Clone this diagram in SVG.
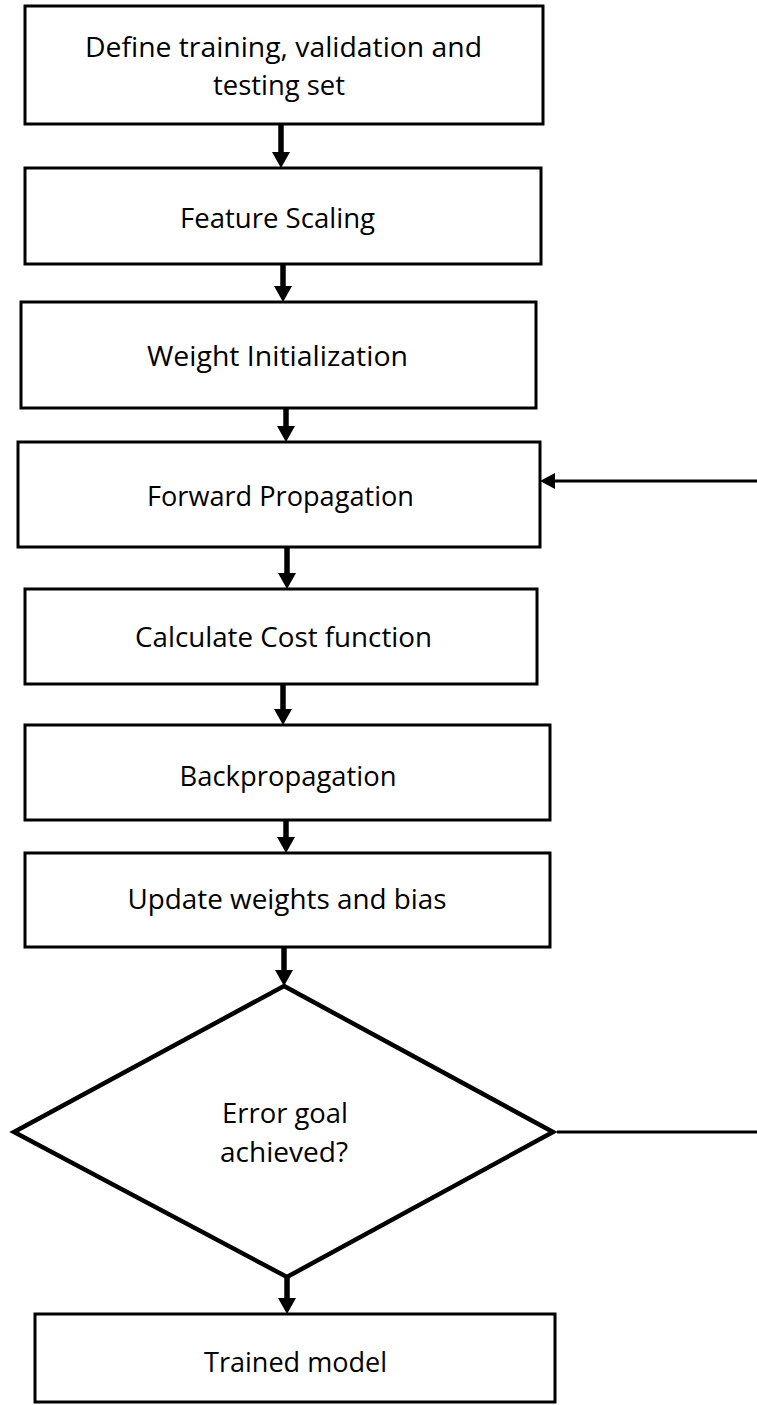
<svg xmlns="http://www.w3.org/2000/svg" width="757" height="1405" viewBox="0 0 757 1405">
  <style>
    .box { fill: #ffffff; stroke: #000000; stroke-width: 3; }
    .dec { fill: #ffffff; stroke: #000000; stroke-width: 4.5; stroke-linejoin: miter; }
    .flow { stroke: #000000; stroke-width: 5.5; fill: none; }
    .loop { stroke: #000000; stroke-width: 3; fill: none; }
    .lbl { font-family: "Open Sans", "Liberation Sans", sans-serif; font-size: 27.5px; fill: #000000; }
    .lbl2 { font-family: "Open Sans", "Liberation Sans", sans-serif; font-size: 27px; fill: #000000; }
  </style>
  <defs>
    <!-- heavy head for the main downward flow; starts where the shaft ends -->
    <marker id="head" markerUnits="userSpaceOnUse" markerWidth="18" markerHeight="18" refX="0" refY="9" orient="auto">
      <path d="M0,0 L16,9 L0,18 Z" fill="#000000"/>
    </marker>
    <!-- lighter head for the return path -->
    <marker id="headThin" markerUnits="userSpaceOnUse" markerWidth="16" markerHeight="16" refX="0" refY="8" orient="auto">
      <path d="M0,0 L15,8 L0,16 Z" fill="#000000"/>
    </marker>
  </defs>

  <rect width="757" height="1405" fill="#ffffff"/>

  <!-- connectors -->
  <g id="connectors">
    <line class="flow" x1="281" y1="124" x2="281" y2="152" marker-end="url(#head)"/>
    <line class="flow" x1="283" y1="264" x2="283" y2="286" marker-end="url(#head)"/>
    <line class="flow" x1="286" y1="408" x2="286" y2="426" marker-end="url(#head)"/>
    <line class="flow" x1="287" y1="547" x2="287" y2="573" marker-end="url(#head)"/>
    <line class="flow" x1="283" y1="684" x2="283" y2="709" marker-end="url(#head)"/>
    <line class="flow" x1="286" y1="814" x2="286" y2="837" marker-end="url(#head)"/>
    <line class="flow" x1="284" y1="947" x2="284" y2="970" marker-end="url(#head)"/>
    <line class="flow" x1="287" y1="1267" x2="287" y2="1298" marker-end="url(#head)"/>
    <!-- "no" branch leaving the decision, and the return into forward propagation -->
    <line class="loop" x1="557" y1="1132" x2="757" y2="1132"/>
    <line class="loop" x1="757" y1="481" x2="555" y2="481" marker-end="url(#headThin)"/>
  </g>

  <g id="n-define">
    <rect class="box" x="25" y="6" width="518" height="118"/>
    <text class="lbl" x="283.5" y="57" text-anchor="middle" textLength="397" lengthAdjust="spacingAndGlyphs">Define training, validation and</text>
    <text class="lbl" x="279" y="95" text-anchor="middle" textLength="132" lengthAdjust="spacingAndGlyphs">testing set</text>
  </g>

  <g id="n-scaling">
    <rect class="box" x="25" y="168" width="516" height="96"/>
    <text class="lbl" x="277.5" y="228" text-anchor="middle" textLength="195" lengthAdjust="spacingAndGlyphs">Feature Scaling</text>
  </g>

  <g id="n-init">
    <rect class="box" x="21" y="302" width="515" height="106"/>
    <text class="lbl" x="277.5" y="366" text-anchor="middle" textLength="261" lengthAdjust="spacingAndGlyphs">Weight Initialization</text>
  </g>

  <g id="n-forward">
    <rect class="box" x="18" y="442" width="522" height="105"/>
    <text class="lbl" x="280.5" y="506" text-anchor="middle" textLength="267" lengthAdjust="spacingAndGlyphs">Forward Propagation</text>
  </g>

  <g id="n-cost">
    <rect class="box" x="25" y="589" width="512" height="95"/>
    <text class="lbl" x="283.5" y="647" text-anchor="middle" textLength="297" lengthAdjust="spacingAndGlyphs">Calculate Cost function</text>
  </g>

  <g id="n-backprop">
    <rect class="box" x="25" y="725" width="525" height="95"/>
    <text class="lbl2" x="288" y="786" text-anchor="middle" textLength="217" lengthAdjust="spacingAndGlyphs">Backpropagation</text>
  </g>

  <g id="n-update">
    <rect class="box" x="25" y="853" width="525" height="94"/>
    <text class="lbl2" x="287" y="909" text-anchor="middle" textLength="319" lengthAdjust="spacingAndGlyphs">Update weights and bias</text>
  </g>

  <g id="n-goal">
    <polygon class="dec" points="284,986 553,1132 287,1277 14,1132"/>
    <text class="lbl2" x="285" y="1123" text-anchor="middle" textLength="126" lengthAdjust="spacingAndGlyphs">Error goal</text>
    <text class="lbl2" x="284" y="1162" text-anchor="middle" textLength="128" lengthAdjust="spacingAndGlyphs">achieved?</text>
  </g>

  <g id="n-trained">
    <rect class="box" x="35" y="1314" width="520" height="88"/>
    <text class="lbl2" x="295.5" y="1372" text-anchor="middle" textLength="183" lengthAdjust="spacingAndGlyphs">Trained model</text>
  </g>
</svg>
